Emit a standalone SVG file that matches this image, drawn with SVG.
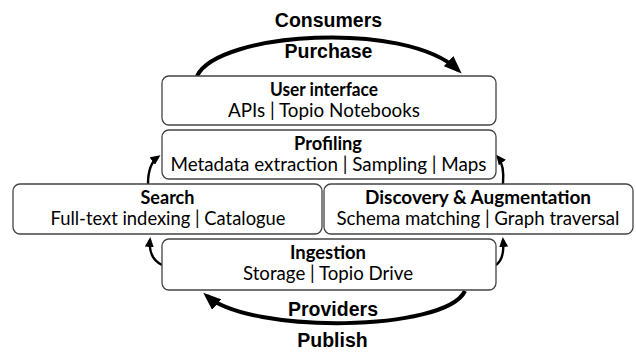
<svg xmlns="http://www.w3.org/2000/svg" width="636" height="354" viewBox="0 0 636 354">
<defs>
<style>
.box{fill:#fff;stroke:#444;stroke-width:1.3}
.t{font-family:Lato,"Open Sans","Liberation Sans",sans-serif;font-size:19.5px;fill:#000;text-anchor:middle}
.b{font-weight:bold}
.lbl{font-family:"Liberation Sans",Arial,sans-serif;font-weight:bold;font-size:19.5px;fill:#000;text-anchor:middle}
.big{fill:none;stroke:#000;stroke-width:4}
.sm{fill:none;stroke:#000;stroke-width:2.4}
</style>
<marker id="ah" markerUnits="userSpaceOnUse" markerWidth="18" markerHeight="14" viewBox="0 0 18 14" refX="13" refY="7" orient="auto">
<path d="M0,0 L18,7 L0,14 z" fill="#000"/>
</marker>
<marker id="as" markerUnits="userSpaceOnUse" markerWidth="10" markerHeight="9" viewBox="0 0 10 9" refX="7" refY="4.5" orient="auto">
<path d="M0,0 L10,4.5 L0,9 z" fill="#000"/>
</marker>
</defs>
<rect width="636" height="354" fill="#fff"/>

<g id="connectors">
<path class="big" d="M197,76 C218,32 405,20 458,70" marker-end="url(#ah)"/>
<path class="big" d="M465,291 C445,332 250,334 207,296" marker-end="url(#ah)"/>
<path class="sm" d="M162,265 C152,260 149,250 150,240" marker-end="url(#as)"/>
<path class="sm" d="M148,184 C148,172 151,162 158,157" marker-end="url(#as)"/>
<path class="sm" d="M503,184 C504,172 502,162 498,157" marker-end="url(#as)"/>
<path class="sm" d="M496,265 C503,260 504,250 503,240" marker-end="url(#as)"/>
</g>

<g id="labels">
<text class="lbl" x="328.5" y="27">Consumers</text>
<text class="lbl" x="328.5" y="58">Purchase</text>
<text class="lbl" x="333" y="316">Providers</text>
<text class="lbl" x="332.5" y="347">Publish</text>
</g>

<g id="user-interface">
<rect class="box" x="162" y="76" width="334" height="49" rx="7"/>
<text class="t b" x="324" y="96" textLength="108" lengthAdjust="spacingAndGlyphs">User interface</text>
<text class="t" x="324" y="117" textLength="192" lengthAdjust="spacingAndGlyphs">APIs | Topio Notebooks</text>
</g>

<g id="profiling">
<rect class="box" x="162" y="130" width="334" height="49" rx="7"/>
<text class="t b" x="328" y="150" textLength="68" lengthAdjust="spacingAndGlyphs">Profiling</text>
<text class="t" x="328.5" y="171" textLength="316" lengthAdjust="spacingAndGlyphs">Metadata extraction | Sampling | Maps</text>
</g>

<g id="search">
<rect class="box" x="13" y="184" width="309" height="50" rx="7"/>
<text class="t b" x="167.5" y="204" textLength="54" lengthAdjust="spacingAndGlyphs">Search</text>
<text class="t" x="168" y="225" textLength="235" lengthAdjust="spacingAndGlyphs">Full-text indexing | Catalogue</text>
</g>

<g id="discovery">
<rect class="box" x="324" y="184" width="309" height="50" rx="7"/>
<text class="t b" x="478" y="204" textLength="226" lengthAdjust="spacingAndGlyphs">Discovery &amp; Augmentation</text>
<text class="t" x="478" y="225" textLength="283" lengthAdjust="spacingAndGlyphs">Schema matching | Graph traversal</text>
</g>

<g id="ingestion">
<rect class="box" x="162" y="239" width="334" height="51" rx="7"/>
<text class="t b" x="328" y="259" textLength="76" lengthAdjust="spacingAndGlyphs">Ingestion</text>
<text class="t" x="328" y="280" textLength="170" lengthAdjust="spacingAndGlyphs">Storage | Topio Drive</text>
</g>
</svg>
